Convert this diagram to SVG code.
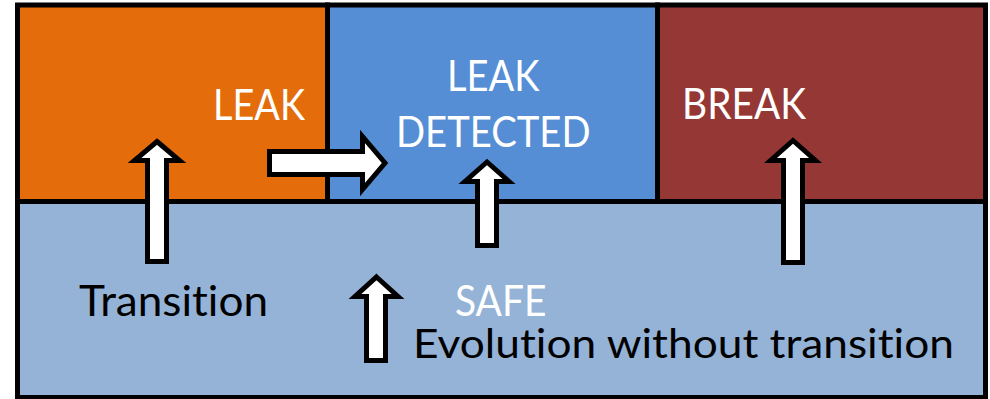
<svg xmlns="http://www.w3.org/2000/svg" width="990" height="399" viewBox="0 0 990 399">
<style>
.box{stroke:#000;stroke-width:5}
.lbl{font-family:Lato,"Open Sans","Liberation Sans",sans-serif;font-size:42px;font-variant-ligatures:none}
.w{fill:#fff}
.k{fill:#000}
.arr{fill:#fff;stroke:#000;stroke-width:5;stroke-linejoin:miter}
</style>
<rect x="0" y="0" width="990" height="399" fill="#fff"/>
<g id="safe">
<rect class="box" x="17.5" y="201.5" width="968" height="196" fill="#95B3D7"/>
<text class="lbl w" x="455" y="316" textLength="91.5" lengthAdjust="spacingAndGlyphs">SAFE</text>
</g>
<g id="leak">
<rect class="box" x="17.5" y="5" width="310" height="196.5" fill="#E46C0A"/>
<text class="lbl w" x="213" y="120" textLength="92" lengthAdjust="spacingAndGlyphs">LEAK</text>
</g>
<g id="leak-detected">
<rect class="box" x="327.5" y="5" width="330" height="196.5" fill="#558ED5"/>
<text class="lbl w" x="447" y="91" textLength="92.5" lengthAdjust="spacingAndGlyphs">LEAK</text>
<text class="lbl w" x="396" y="147" textLength="194.5" lengthAdjust="spacingAndGlyphs">DETECTED</text>
</g>
<g id="break">
<rect class="box" x="657.5" y="5" width="328" height="196.5" fill="#953735"/>
<text class="lbl w" x="682" y="119" textLength="124" lengthAdjust="spacingAndGlyphs">BREAK</text>
</g>
<g id="connectors">
<path class="arr" d="M157,141.5 L179.5,160.5 L166.5,160.5 L166.5,261.5 L147.5,261.5 L147.5,160.5 L134.5,160.5 Z"/>
<path class="arr" d="M269.5,151.5 L362.5,151.5 L362.5,136.5 L385,163 L362.5,189.5 L362.5,174.5 L269.5,174.5 Z"/>
<path class="arr" d="M487,162 L509,181.5 L496.5,181.5 L496.5,245.5 L477.5,245.5 L477.5,181.5 L465,181.5 Z"/>
<path class="arr" d="M793,140.5 L815.5,160.5 L802.5,160.5 L802.5,262.5 L783.5,262.5 L783.5,160.5 L770.5,160.5 Z"/>
</g>
<g id="legend">
<path class="arr" d="M376.5,277 L398,296.5 L385.5,296.5 L385.5,360.5 L366.5,360.5 L366.5,296.5 L355,296.5 Z"/>
<text class="lbl k" x="79" y="316" textLength="189" lengthAdjust="spacingAndGlyphs">Transition</text>
<text class="lbl k" x="413" y="358" style="font-size:40px" textLength="541" lengthAdjust="spacingAndGlyphs">Evolution without transition</text>
</g>
</svg>
